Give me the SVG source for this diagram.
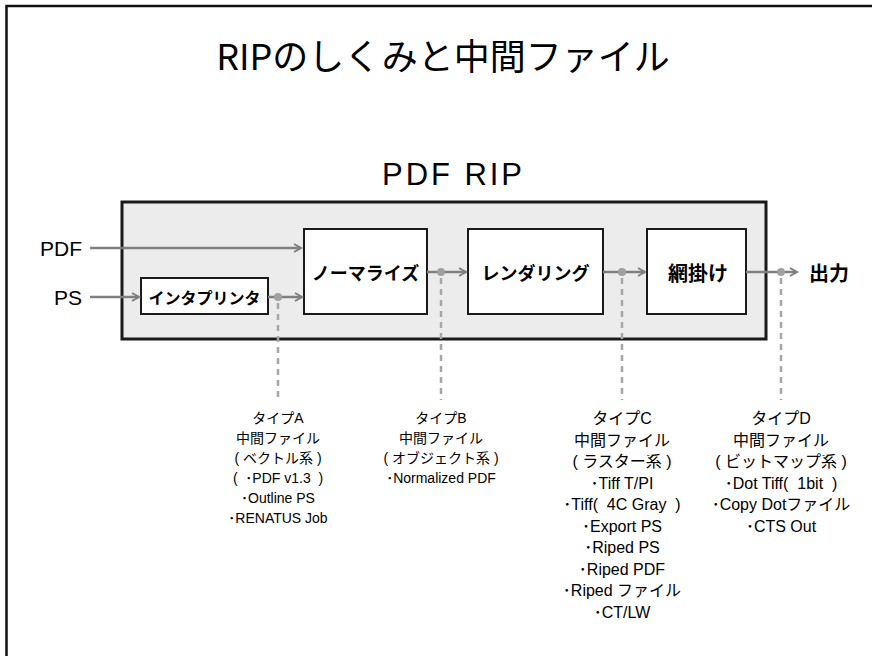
<svg xmlns="http://www.w3.org/2000/svg" width="872" height="656" viewBox="0 0 872 656">
<style>
.frame{fill:none;stroke:#111;stroke-width:2.5}
.rip{fill:#ececec;stroke:#1a1a1a;stroke-width:3}
.node{fill:#fff;stroke:#1a1a1a;stroke-width:2}
.nl{font-family:"Noto Sans CJK JP","Liberation Sans",sans-serif;font-weight:bold;fill:#000;text-anchor:middle;dominant-baseline:central}
.arr{fill:none;stroke:#7f7f7f;stroke-width:2.5;marker-end:url(#ah)}
.dash{fill:none;stroke:#a6a6a6;stroke-width:2.5;stroke-dasharray:6 5}
.dot{fill:#a0a0a0}
.lab{font-family:"Liberation Sans","Noto Sans CJK JP",sans-serif;fill:#000}
.col{font-family:"Liberation Sans","Noto Sans CJK JP",sans-serif;font-size:14px;fill:#000;text-anchor:middle}
.colL{font-family:"Liberation Sans","Noto Sans CJK JP",sans-serif;font-size:16px;fill:#000;text-anchor:middle}
</style>
<defs>
<marker id="ah" markerWidth="10" markerHeight="10" refX="8" refY="5" orient="auto" markerUnits="userSpaceOnUse">
<path d="M1,1 L8,5 L1,9" fill="none" stroke="#7f7f7f" stroke-width="2"/>
</marker>
</defs>
<rect width="872" height="656" fill="#fff"/>
<rect class="frame" x="6.5" y="6" width="900" height="700"/>
<text x="443" y="70" font-family="'Noto Sans CJK JP',sans-serif" font-size="36" text-anchor="middle" fill="#000">RIPのしくみと中間ファイル</text>
<text x="382" y="185" class="lab" font-size="31" textLength="140" lengthAdjust="spacing">PDF RIP</text>
<g id="rip"><rect class="rip" x="122" y="202" width="644" height="137"/></g>
<g id="normalize"><rect class="node" x="304" y="229" width="123" height="85"/><text class="nl" x="365.5" y="272" font-size="18">ノーマライズ</text></g>
<g id="interpreter"><rect class="node" x="141" y="278" width="127" height="36"/><text class="nl" x="204.5" y="297" font-size="16">インタプリンタ</text></g>
<g id="render"><rect class="node" x="468" y="229" width="135" height="85"/><text class="nl" x="535.5" y="272" font-size="18">レンダリング</text></g>
<g id="halftone"><rect class="node" x="647" y="229" width="99" height="85"/><text class="nl" x="698" y="272" font-size="20">網掛け</text></g>
<g id="inputs">
<text class="lab" x="82" y="256" font-size="21" text-anchor="end">PDF</text>
<text class="lab" x="82" y="305" font-size="21" text-anchor="end">PS</text>
</g>
<g id="output"><text class="nl" x="829" y="272" font-size="20">出力</text></g>
<g id="connectors">
<line class="arr" x1="90" y1="248" x2="301" y2="248"/>
<line class="arr" x1="90" y1="297" x2="139" y2="297"/>
<line class="arr" x1="268" y1="297" x2="302" y2="297"/>
<line class="arr" x1="427" y1="272" x2="466" y2="272"/>
<line class="arr" x1="603" y1="272" x2="645" y2="272"/>
<line class="arr" x1="746" y1="272" x2="797" y2="272"/>
<line class="dash" x1="278" y1="303" x2="278" y2="400"/>
<line class="dash" x1="441" y1="278" x2="441" y2="400"/>
<line class="dash" x1="622" y1="278" x2="622" y2="400"/>
<line class="dash" x1="781" y1="278" x2="781" y2="400"/>
<circle class="dot" cx="278" cy="297" r="4"/>
<circle class="dot" cx="441" cy="272" r="4"/>
<circle class="dot" cx="622" cy="272" r="4"/>
<circle class="dot" cx="781" cy="272" r="4"/>
</g>
<g id="typeA" class="col">
<text x="278" y="423">タイプA</text>
<text x="278" y="443">中間ファイル</text>
<text x="278" y="463">( ベクトル系 )</text>
<text x="278" y="483">(&#160;&#160;･PDF v1.3&#160;&#160;)</text>
<text x="278" y="503">･Outline PS</text>
<text x="278" y="523">･RENATUS Job</text>
</g>
<g id="typeB" class="col">
<text x="441" y="423">タイプB</text>
<text x="441" y="443">中間ファイル</text>
<text x="441" y="463">( オブジェクト系 )</text>
<text x="441" y="483">･Normalized PDF</text>
</g>
<g id="typeC" class="colL">
<text x="622" y="424">タイプC</text>
<text x="622" y="445.5">中間ファイル</text>
<text x="622" y="467">( ラスター系 )</text>
<text x="622" y="488.5">･Tiff T/PI</text>
<text x="622" y="510">･Tiff(&#160;&#160;4C Gray&#160;&#160;)</text>
<text x="622" y="531.5">･Export PS</text>
<text x="622" y="553">･Riped PS</text>
<text x="622" y="574.5">･Riped PDF</text>
<text x="622" y="596">･Riped ファイル</text>
<text x="622" y="617.5">･CT/LW</text>
</g>
<g id="typeD" class="colL">
<text x="781" y="424">タイプD</text>
<text x="781" y="445.5">中間ファイル</text>
<text x="781" y="467">( ビットマップ系 )</text>
<text x="781" y="488.5">･Dot Tiff(&#160;&#160;1bit&#160;&#160;)</text>
<text x="781" y="510">･Copy Dotファイル</text>
<text x="781" y="531.5">･CTS Out</text>
</g>
</svg>
